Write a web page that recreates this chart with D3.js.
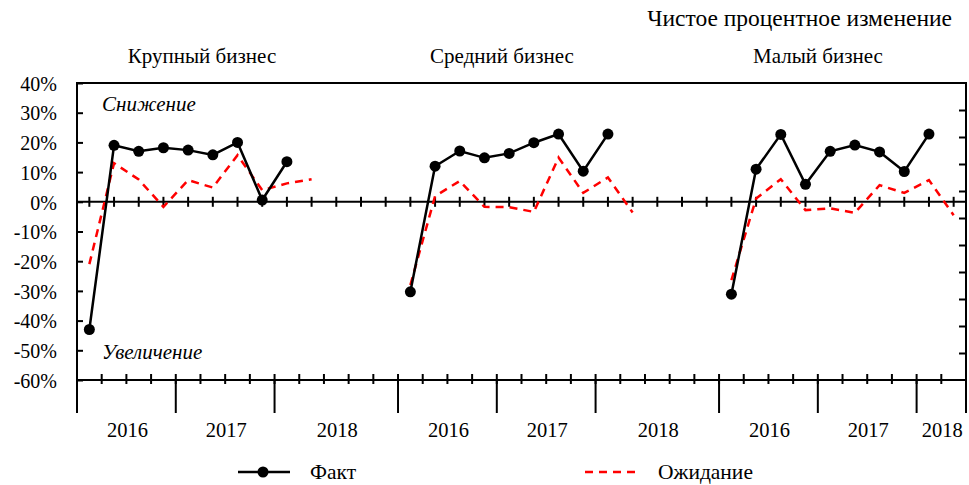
<!DOCTYPE html>
<html>
<head>
<meta charset="utf-8">
<script src="https://cdn.jsdelivr.net/npm/d3@7"></script>
<style>
    body { margin: 0; background: #fff; }
</style>
</head>
<body>
<div id="chart"></div>
<script>
'use strict';

var FONT = "'Liberation Serif'";

// panels and years
var panelNames = ['Крупный бизнес', 'Средний бизнес', 'Малый бизнес'];
var yearLabels = ['2016', '2017', '2018'];
var yearSlots = [[4, 4, 5], [4, 4, 5], [4, 4, 2]]; // categories under each year label, per panel
var yTicks = [40, 30, 20, 10, 0, -10, -20, -30, -40, -50, -60];

// Fact (black, markers): 2016 Q1 .. 2018 Q1
var factLarge = [-43, 19, 17, 18.2, 17.4, 15.8, 20, 0.6, 13.5];
var factMedium = [-30.3, 12, 17.1, 14.8, 16.3, 19.9, 22.8, 10.3, 22.8];
var factSmall = [-31.1, 11, 22.7, 5.9, 17, 19.1, 16.8, 10.2, 22.8];

// Expectation (red dashed): 2016 Q1 .. 2018 Q2
var expLarge = [-21, 13, 7.5, -1.7, 7.3, 4.8, 15.7, 3.9, 6.2, 7.6];
var expMedium = [-28, 1.9, 7, -1.7, -1.8, -3.4, 14.9, 3, 8.2, -3.6];
var expSmall = [-26.4, 1.1, 7.6, -2.8, -2.2, -3.7, 5.6, 3, 7.3, -4.5];

var factSeries = [factLarge, factMedium, factSmall];
var expSeries = [expLarge, expMedium, expSmall];

var W = 969, H = 485,
    margin = { top: 83, left: 77, right: 3, bottom: 105 },
    plotW = W - margin.left - margin.right,
    plotH = H - margin.top - margin.bottom;

var svg = d3.select('#chart').append('svg')
    .attr('width', W)
    .attr('height', H)
    .style('font-family', FONT);

function txt(sel, size) {
    return sel.style('font-family', FONT).style('font-size', size + 'px').attr('fill', '#000');
}

// category offset of each panel
var panelStart = [],
    nCats = 0;
yearSlots.forEach(function (slots) {
    panelStart.push(nCats);
    nCats += d3.sum(slots);
});

var x = d3.scaleBand()
    .domain(d3.range(nCats))
    .range([margin.left, margin.left + plotW]);
var bw = x.bandwidth();
var cx = function (i) { return x(i) + bw / 2; };

var y = d3.scaleLinear()
    .domain([-60, 40])
    .range([margin.top + plotH, margin.top]);

// secondary (unlabelled) axis on the right
var ySec = d3.scaleLinear()
    .domain([0, 11])
    .range([margin.top + plotH, margin.top]);

var g = svg.append('g');

// frame
g.append('rect')
    .attr('x', margin.left)
    .attr('y', margin.top)
    .attr('width', plotW)
    .attr('height', plotH)
    .attr('fill', 'none')
    .attr('stroke', '#000')
    .attr('stroke-width', 2);

// left axis
var yAxis = d3.axisLeft(y)
    .tickValues(yTicks)
    .tickFormat(function (d) { return d + '%'; })
    .tickSizeInner(-6)
    .tickSizeOuter(0)
    .tickPadding(20);
var ya = g.append('g')
    .attr('transform', 'translate(' + margin.left + ',0)')
    .call(yAxis);
ya.select('.domain').remove();
ya.selectAll('line').attr('stroke', '#000').attr('stroke-width', 2);
txt(ya.selectAll('text'), 20).attr('dy', '0.36em');

// right axis ticks
var ySecAxis = d3.axisLeft(ySec)
    .tickValues(d3.range(1, 11))
    .tickFormat('')
    .tickSizeInner(7)
    .tickSizeOuter(0);
var ys = g.append('g')
    .attr('transform', 'translate(' + (margin.left + plotW) + ',0)')
    .call(ySecAxis);
ys.select('.domain').remove();
ys.selectAll('line').attr('stroke', '#000').attr('stroke-width', 2).attr('x1', -7).attr('x2', 0);

// zero line with ticks at category centres
g.append('line')
    .attr('x1', margin.left)
    .attr('x2', margin.left + plotW)
    .attr('y1', y(0))
    .attr('y2', y(0))
    .attr('stroke', '#000')
    .attr('stroke-width', 2);
g.append('g').selectAll('line')
    .data(d3.range(nCats))
    .enter().append('line')
    .attr('x1', function (d) { return cx(d); })
    .attr('x2', function (d) { return cx(d); })
    .attr('y1', y(0) - 5)
    .attr('y2', y(0) + 5)
    .attr('stroke', '#000')
    .attr('stroke-width', 2);

// bottom ticks at category boundaries
var yBottom = margin.top + plotH;
g.append('g').selectAll('line')
    .data(d3.range(1, nCats))
    .enter().append('line')
    .attr('x1', function (d) { return x(d); })
    .attr('x2', function (d) { return x(d); })
    .attr('y1', yBottom - 6)
    .attr('y2', yBottom + 4)
    .attr('stroke', '#000')
    .attr('stroke-width', 2);

// year dividers and labels
var yearG = g.append('g');
var bounds = [0];
var yearItems = [];
yearSlots.forEach(function (slots, p) {
    var start = panelStart[p];
    slots.forEach(function (n, k) {
        yearItems.push({ label: yearLabels[k], a: start, b: start + n });
        start += n;
        bounds.push(start);
    });
});
var bx = function (d) { return d === nCats ? margin.left + plotW : x(d); };
yearG.selectAll('line')
    .data(bounds)
    .enter().append('line')
    .attr('x1', bx)
    .attr('x2', bx)
    .attr('y1', yBottom)
    .attr('y2', yBottom + 33)
    .attr('stroke', '#000')
    .attr('stroke-width', 2);
txt(yearG.selectAll('text')
    .data(yearItems)
    .enter().append('text')
    .attr('x', function (d) { return (bx(d.a) + bx(d.b)) / 2 + 1; })
    .attr('y', yBottom + 57)
    .attr('text-anchor', 'middle')
    .text(function (d) { return d.label; }), 20.5);

// lines
var line = d3.line()
    .x(function (d) { return cx(d.i); })
    .y(function (d) { return y(d.v); });

function toPoints(values, p) {
    return values.map(function (v, k) { return { i: panelStart[p] + k, v: v }; });
}

expSeries.forEach(function (vals, p) {
    g.append('path')
        .datum(toPoints(vals, p))
        .attr('d', line)
        .attr('fill', 'none')
        .attr('stroke', '#ff0000')
        .attr('stroke-width', 2.5)
        .attr('stroke-dasharray', '8,6');
});

factSeries.forEach(function (vals, p) {
    var pts = toPoints(vals, p);
    g.append('path')
        .datum(pts)
        .attr('d', line)
        .attr('fill', 'none')
        .attr('stroke', '#000')
        .attr('stroke-width', 2.5);
    g.append('g').selectAll('circle')
        .data(pts)
        .enter().append('circle')
        .attr('cx', function (d) { return cx(d.i); })
        .attr('cy', function (d) { return y(d.v); })
        .attr('r', 5.5)
        .attr('fill', '#000');
});

// annotations inside the plot
txt(g.append('text')
    .attr('x', margin.left + 25)
    .attr('y', 111)
    .text('Снижение'), 21).style('font-style', 'italic');
txt(g.append('text')
    .attr('x', margin.left + 25)
    .attr('y', 359)
    .text('Увеличение'), 21).style('font-style', 'italic');

// panel titles
var titleX = [202, 502, 818];
txt(svg.selectAll('.panel-title')
    .data(panelNames)
    .enter().append('text')
    .attr('class', 'panel-title')
    .attr('x', function (d, i) { return titleX[i]; })
    .attr('y', 63)
    .attr('text-anchor', 'middle')
    .text(function (d) { return d; }), 21);

txt(svg.append('text')
    .attr('x', 952)
    .attr('y', 26)
    .attr('text-anchor', 'end')
    .text('Чистое процентное изменение'), 23.5);

// legend
var legY = 472;
var leg = svg.append('g');
leg.append('line')
    .attr('x1', 238).attr('x2', 290)
    .attr('y1', legY).attr('y2', legY)
    .attr('stroke', '#000').attr('stroke-width', 2.5);
leg.append('circle')
    .attr('cx', 263).attr('cy', legY).attr('r', 5.5).attr('fill', '#000');
txt(leg.append('text')
    .attr('x', 310).attr('y', legY + 7)
    .text('Факт'), 21.5);
leg.append('line')
    .attr('x1', 585).attr('x2', 640)
    .attr('y1', legY).attr('y2', legY)
    .attr('stroke', '#ff0000').attr('stroke-width', 2.5)
    .attr('stroke-dasharray', '8,6');
txt(leg.append('text')
    .attr('x', 658).attr('y', legY + 7)
    .text('Ожидание'), 21.5);
</script>
</body>
</html>
